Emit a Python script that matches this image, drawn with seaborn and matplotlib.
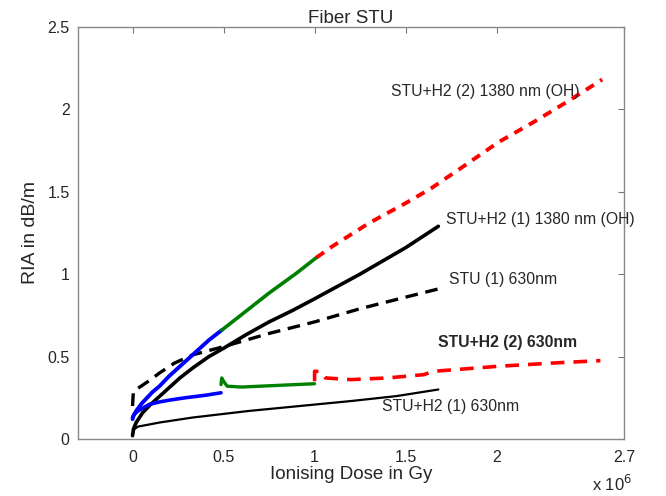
import matplotlib
matplotlib.use("Agg")
import matplotlib.pyplot as plt
import seaborn as sns
import pandas as pd

sns.set_theme(style="white")
plt.rcParams['font.family'] = ['Liberation Sans', 'DejaVu Sans']

# Dose in units of 1e6 Gy, RIA in dB/m
# STU+H2 (2) 1380 nm (OH): three segments (blue, green, red dashed)
oh2_blue_x = [0.0, 0.005, 0.02, 0.05, 0.08, 0.11, 0.148, 0.2, 0.25, 0.3, 0.36, 0.42, 0.49]
oh2_blue_y = [0.12, 0.14, 0.17, 0.215, 0.25, 0.285, 0.32, 0.38, 0.43, 0.48, 0.54, 0.60, 0.66]
oh2_green_x = [0.49, 0.6, 0.75, 0.9, 1.01]
oh2_green_y = [0.66, 0.755, 0.885, 1.005, 1.10]
oh2_red_x = [1.01, 1.1, 1.3, 1.5, 1.64, 1.8, 2.01, 2.2, 2.38, 2.58]
oh2_red_y = [1.10, 1.17, 1.31, 1.43, 1.52, 1.64, 1.80, 1.92, 2.04, 2.18]

# STU+H2 (1) 1380 nm (OH)
oh1_x = [0.0, 0.005, 0.02, 0.056, 0.1, 0.15, 0.2, 0.26, 0.33, 0.42, 0.5, 0.62, 0.75, 0.88, 1.0, 1.25, 1.5, 1.68]
oh1_y = [0.02, 0.06, 0.10, 0.16, 0.21, 0.26, 0.31, 0.37, 0.43, 0.50, 0.55, 0.63, 0.71, 0.78, 0.85, 1.00, 1.16, 1.29]

# STU (1) 630nm
stu_x = [0.0, 0.003, 0.006, 0.047, 0.1, 0.148, 0.23, 0.33, 0.5, 0.75, 1.0, 1.25, 1.5, 1.68]
stu_y = [0.20, 0.26, 0.29, 0.32, 0.36, 0.40, 0.46, 0.51, 0.56, 0.64, 0.71, 0.79, 0.86, 0.91]

# STU+H2 (2) 630nm: three segments
v2_blue_x = [0.0, 0.01, 0.03, 0.06, 0.093, 0.15, 0.2, 0.29, 0.4, 0.486]
v2_blue_y = [0.13, 0.15, 0.17, 0.19, 0.21, 0.225, 0.235, 0.25, 0.265, 0.28]
v2_green_x = [0.486, 0.49, 0.5, 0.52, 0.6, 0.7, 0.8, 0.9, 1.0]
v2_green_y = [0.33, 0.37, 0.35, 0.32, 0.315, 0.32, 0.325, 0.33, 0.335]
v2_red_x = [1.0, 1.0, 1.03, 1.06, 1.2, 1.4, 1.6, 1.65, 2.0, 2.3, 2.57]
v2_red_y = [0.35, 0.41, 0.41, 0.37, 0.36, 0.37, 0.39, 0.41, 0.44, 0.46, 0.475]

# STU+H2 (1) 630nm
v1_x = [0.0, 0.01, 0.03, 0.15, 0.33, 0.64, 0.92, 1.2, 1.45, 1.68]
v1_y = [0.02, 0.06, 0.075, 0.10, 0.13, 0.17, 0.20, 0.23, 0.26, 0.30]

x_ticks = [0, 0.5, 1, 1.5, 2, 2.7]
x_ticklabels = ['0', '0.5', '1', '1.5', '2', '2.7']
y_ticks = [0, 0.5, 1, 1.5, 2, 2.5]
y_ticklabels = ['0', '0.5', '1', '1.5', '2', '2.5']

fig = plt.figure(figsize=(6.66, 4.96), dpi=100)
ax = fig.add_axes([0.117, 0.115, 0.820, 0.831])

def draw(x, y, color, ls='-', lw=2.4, dashes=None):
    df = pd.DataFrame({'x': x, 'y': y})
    kw = dict(color=color, linewidth=lw, linestyle=ls)
    line_ax = sns.lineplot(data=df, x='x', y='y', ax=ax, sort=False,
                           estimator=None, legend=False, **kw)
    ln = line_ax.lines[-1]
    ln.set_solid_joinstyle('round')
    ln.set_solid_capstyle('round')
    if dashes is not None:
        ln.set_dashes(dashes)

blue = '#0000ff'
green = '#008000'
red = '#ff0000'

draw(v1_x, v1_y, 'black', lw=1.6)
draw(stu_x, stu_y, 'black', ls='--', lw=2.4, dashes=(3.8, 2.3))
draw(oh1_x, oh1_y, 'black', lw=2.6)
draw(v2_blue_x, v2_blue_y, blue, lw=2.6)
draw(v2_green_x, v2_green_y, green, lw=2.4)
draw(v2_red_x, v2_red_y, red, ls='--', lw=2.6, dashes=(3.8, 2.5))
draw(oh2_blue_x, oh2_blue_y, blue, lw=2.8)
draw(oh2_green_x, oh2_green_y, green, lw=2.6)
draw(oh2_red_x, oh2_red_y, red, ls='--', lw=2.8, dashes=(2.4, 1.9))

ax.set_xlim(-0.3, 2.7)
ax.set_ylim(0, 2.5)
ax.set_xticks(x_ticks)
ax.set_xticklabels(x_ticklabels)
ax.set_yticks(y_ticks)
ax.set_yticklabels(y_ticklabels)
ax.tick_params(direction='in', length=4, width=0.8, color='#777777',
               labelsize=11.5, top=True, right=True, pad=6)
ax.tick_params(axis='x', pad=8)
for s in ax.spines.values():
    s.set_color('#888888')
    s.set_linewidth(1.0)

ax.set_xlabel('Ionising Dose in Gy', fontsize=13.5, labelpad=1)
ax.set_ylabel('RIA in dB/m', fontsize=14, labelpad=6)
ax.set_title('Fiber STU', fontsize=13.5, pad=3)

fig.text(632 / 666, 2 / 496, 'x 10$^6$', fontsize=12, ha='right', va='bottom')

lab = dict(fontsize=11.3, va='center', ha='left')
ax.text(1.42, 2.11, 'STU+H2 (2) 1380 nm (OH)', **lab)
ax.text(1.72, 1.33, 'STU+H2 (1) 1380 nm (OH)', **lab)
ax.text(1.74, 0.97, 'STU (1) 630nm', **lab)
ax.text(1.68, 0.585, 'STU+H2 (2) 630nm', fontweight='bold', **lab)
ax.text(1.37, 0.195, 'STU+H2 (1) 630nm', **lab)

fig.savefig('out.png', dpi=100)
